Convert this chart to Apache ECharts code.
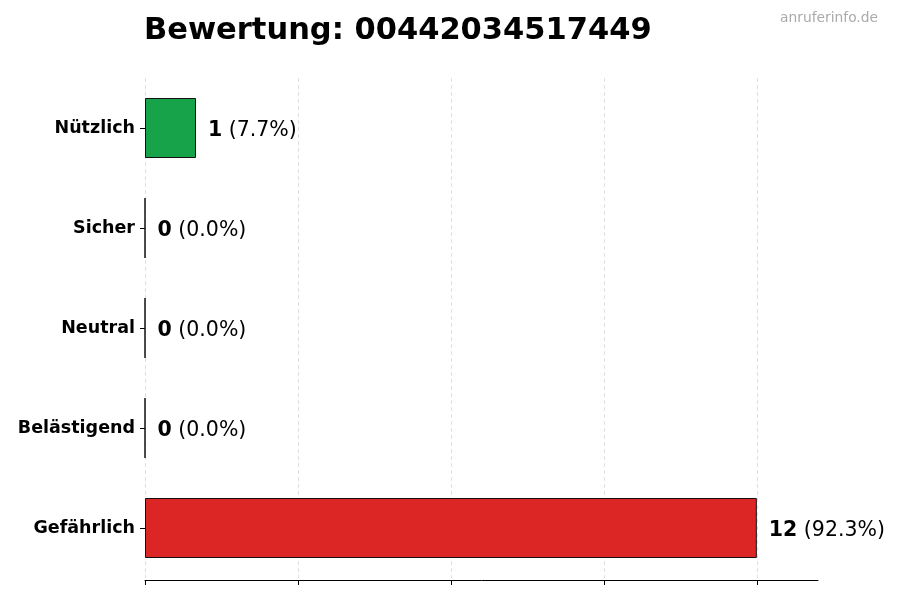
<!DOCTYPE html>
<html>
<head>
<meta charset="utf-8">
<script src="https://cdn.jsdelivr.net/npm/echarts@6/dist/echarts.min.js"></script>
<style>html,body{margin:0;padding:0;background:#fff}#c{width:900px;height:600px}</style>
</head>
<body>
<div id="c"></div>
<script>
var categories = ['Nützlich', 'Sicher', 'Neutral', 'Belästigend', 'Gefährlich'];
var values = [1, 0, 0, 0, 12];
var percents = ['7.7', '0.0', '0.0', '0.0', '92.3'];
var colors = ['#16a34a', '#16a34a', '#6b7280', '#f59e0b', '#dc2626'];
var xTicks = [0, 3, 6, 9, 12];

var chart = echarts.init(document.getElementById('c'));
var FONT = 'DejaVu Sans';
var grid = '#d9d9d9';
chart.setOption({
  animation: false,
  backgroundColor: '#ffffff',
  title: [{
    text: 'Bewertung: 00442034517449',
    left: 144, top: 16, padding: 0,
    textStyle: {fontFamily: FONT, fontWeight: 'bold', fontSize: 30.5, color: '#000'}
  }, {
    text: 'anruferinfo.de',
    right: 22, top: 11, padding: 0,
    textStyle: {fontFamily: FONT, fontWeight: 'normal', fontSize: 13.8, color: '#aaaaaa'}
  }],
  grid: {left: 145, right: 82, top: 78, bottom: 22},
  xAxis: {
    type: 'value', min: 0, max: 13.2, interval: 3,
    offset: 2,
    axisLine: {show: true, lineStyle: {color: '#000', width: 1}},
    axisTick: {show: true, length: 5, customValues: xTicks, lineStyle: {color: '#000'}},
    axisLabel: {show: false},
    splitLine: {show: true, lineStyle: {color: [grid, grid, grid, grid, grid, 'rgba(0,0,0,0)'], type: [4, 3], width: 0.8}}
  },
  yAxis: {
    type: 'category', data: categories, inverse: true,
    axisLine: {show: false},
    axisTick: {show: true, alignWithLabel: true, length: 5, lineStyle: {color: '#000'}},
    axisLabel: {fontFamily: FONT, fontWeight: 'bold', fontSize: 17.5, color: '#000', margin: 10, padding: [4, 0, 0, 0]}
  },
  series: [{
    type: 'bar',
    barWidth: '60%',
    data: values.map(function (v, i) {
      return {value: v, itemStyle: {color: colors[i], borderColor: '#111', borderWidth: 1}};
    }),
    label: {
      show: true, position: 'right', distance: 12, padding: [5, 0, 0, 0],
      formatter: function (p) { return '{b|' + values[p.dataIndex] + '}{n| (' + percents[p.dataIndex] + '%)}'; },
      rich: {
        b: {fontFamily: FONT, fontWeight: 'bold', fontSize: 20.5, color: '#000'},
        n: {fontFamily: FONT, fontWeight: 'normal', fontSize: 20.5, color: '#000'}
      }
    }
  }]
});
</script>
</body>
</html>
